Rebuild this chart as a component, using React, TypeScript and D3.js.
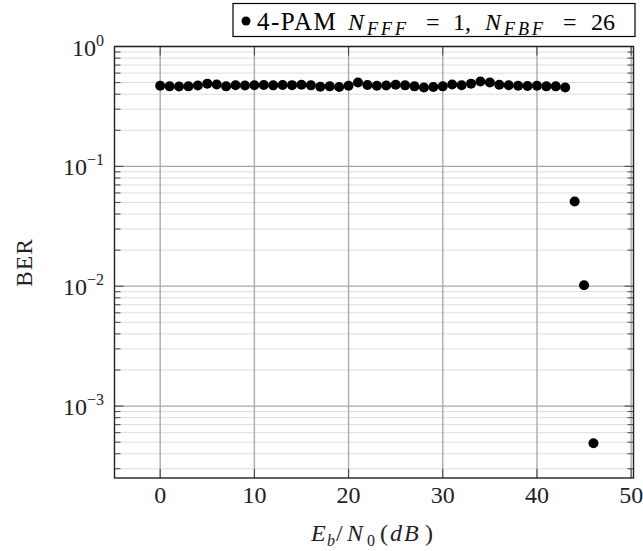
import React from "react";
import * as d3 from "d3";

const snrDb: number[] = [
  0, 1, 2, 3, 4, 5, 6, 7, 8, 9, 10, 11, 12, 13, 14, 15, 16, 17, 18, 19, 20, 21, 22, 23,
  24, 25, 26, 27, 28, 29, 30, 31, 32, 33, 34, 35, 36, 37, 38, 39, 40, 41, 42, 43, 44, 45, 46,
];
const berValues: number[] = [
  0.47, 0.465, 0.463, 0.465, 0.472, 0.49, 0.482, 0.465, 0.475, 0.472, 0.475, 0.478,
  0.474, 0.478, 0.476, 0.48, 0.474, 0.462, 0.465, 0.46, 0.47, 0.5, 0.478, 0.47, 0.472,
  0.48, 0.474, 0.465, 0.455, 0.46, 0.465, 0.482, 0.475, 0.49, 0.51, 0.5, 0.48, 0.475,
  0.47, 0.468, 0.47, 0.465, 0.465, 0.455, 0.051, 0.0102, 0.00049,
];
const xTicks: number[] = [0, 10, 20, 30, 40, 50];
const yExponents: number[] = [0, -1, -2, -3];
const xDomain: [number, number] = [-4.85, 50.25];
const yDomain: [number, number] = [Math.pow(10, -3.6), 1];

const W = 643;
const H = 551;
const L = 114.5;
const R = 633.5;
const T = 46.5;
const B = 478;
const FONT = "'Liberation Serif', 'Times New Roman', serif";

export default function App() {
  const x = d3.scaleLinear().domain(xDomain).range([L, R]);
  const y = d3.scaleLog().domain(yDomain).range([B, T]);

  const minorVals: number[] = [];
  for (let e = -4; e < 0; e++) {
    for (let m = 2; m <= 9; m++) {
      const v = m * Math.pow(10, e);
      if (v >= yDomain[0] && v <= yDomain[1]) minorVals.push(v);
    }
  }
  const majorVals = yExponents.map((e) => Math.pow(10, e));

  const majorLen = 9;
  const minorLen = 6;
  const ly = 30;

  return (
    <svg width={W} height={H} style={{ position: "absolute", left: 0, top: 0 }} fontFamily={FONT}>
      <rect x={0} y={0} width={W} height={H} fill="#fff" />
      {/* minor grid */}
      {minorVals.map((v, i) => (
        <line key={"mg" + i} x1={L} x2={R} y1={y(v)} y2={y(v)} stroke="#dcdcdc" strokeWidth={1} />
      ))}
      {/* major grid */}
      {majorVals.map((v, i) => (
        <line key={"Mg" + i} x1={L} x2={R} y1={y(v)} y2={y(v)} stroke="#a8a8a8" strokeWidth={1.3} />
      ))}
      {xTicks.map((t, i) => (
        <line key={"xg" + i} x1={x(t)} x2={x(t)} y1={T} y2={B} stroke="#acacac" strokeWidth={1.4} />
      ))}
      {/* ticks */}
      {minorVals.map((v, i) => (
        <g key={"mt" + i} stroke="#444" strokeWidth={1}>
          <line x1={L} x2={L + minorLen} y1={y(v)} y2={y(v)} />
          <line x1={R} x2={R - minorLen} y1={y(v)} y2={y(v)} />
        </g>
      ))}
      {majorVals.map((v, i) => (
        <g key={"Mt" + i} stroke="#444" strokeWidth={1}>
          <line x1={L} x2={L + majorLen} y1={y(v)} y2={y(v)} />
          <line x1={R} x2={R - majorLen} y1={y(v)} y2={y(v)} />
        </g>
      ))}
      {xTicks.map((t, i) => (
        <g key={"xt" + i} stroke="#444" strokeWidth={1}>
          <line x1={x(t)} x2={x(t)} y1={B} y2={B - majorLen} />
          <line x1={x(t)} x2={x(t)} y1={T} y2={T + majorLen} />
        </g>
      ))}
      {/* frame */}
      <rect x={L} y={T} width={R - L} height={B - T} fill="none" stroke="#222" strokeWidth={1.4} />
      {/* data */}
      {snrDb.map((s, i) => (
        <circle key={"p" + i} cx={x(s)} cy={y(berValues[i])} r={5} fill="#000" />
      ))}
      {/* x tick labels */}
      {xTicks.map((t, i) => (
        <text key={"xl" + i} x={x(t)} y={503} fontSize={24} textAnchor="middle" fill="#222">
          {t}
        </text>
      ))}
      {/* y tick labels */}
      {yExponents.map((e, i) => (
        <text key={"yl" + i} x={104} y={y(Math.pow(10, e)) + 9} fontSize={24} textAnchor="end" fill="#222">
          10
          <tspan fontSize={16} dy={-10}>
            {e < 0 ? "\u2212" + Math.abs(e) : String(e)}
          </tspan>
        </text>
      ))}
      {/* x axis label */}
      <g fill="#222" fontSize={24}>
        <text x={311} y={541} fontStyle="italic">E</text>
        <text x={327} y={546} fontStyle="italic" fontSize={16}>b</text>
        <text x={336} y={541}>/</text>
        <text x={347} y={541} fontStyle="italic" letterSpacing={1}>N</text>
        <text x={367} y={546} fontSize={16}>0</text>
        <text x={380} y={541}>(</text>
        <text x={390} y={541} fontStyle="italic" letterSpacing={2}>dB</text>
        <text x={425} y={541}>)</text>
      </g>
      <text transform={`translate(32,${(T + B) / 2}) rotate(-90)`} fontSize={23} textAnchor="middle" fill="#222" letterSpacing={1.5}>
        BER
      </text>
      {/* legend */}
      <rect x={233} y={3.5} width={402} height={33} fill="#fff" stroke="#000" strokeWidth={1.2} />
      <circle cx={246} cy={21} r={4.5} fill="#000" />
      <g fill="#000" fontSize={24}>
        <text x={257} y={ly} fontSize={25} letterSpacing={1.5}>4-PAM</text>
        <text x={348} y={ly} fontStyle="italic">N</text>
        <text x={367} y={ly + 5} fontStyle="italic" fontSize={18} letterSpacing={3}>FFF</text>
        <text x={426} y={ly}>=</text>
        <text x={453} y={ly}>1,</text>
        <text x={485} y={ly} fontStyle="italic">N</text>
        <text x={504} y={ly + 5} fontStyle="italic" fontSize={18} letterSpacing={3}>FBF</text>
        <text x={563} y={ly}>=</text>
        <text x={591} y={ly}>26</text>
      </g>
    </svg>
  );
}
